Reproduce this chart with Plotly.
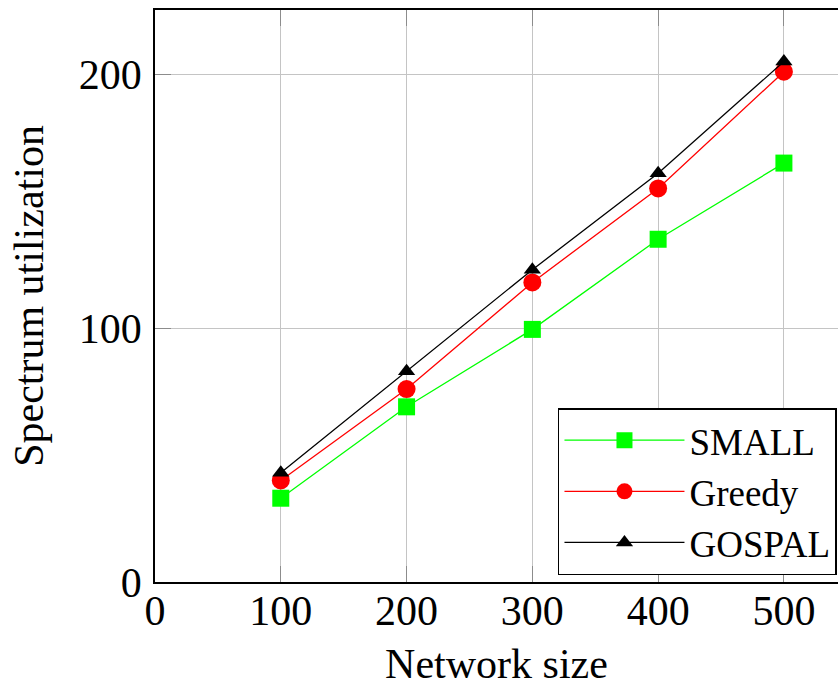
import plotly.graph_objects as go

network_size = [100, 200, 300, 400, 500]
small = [33, 69, 99.5, 135, 165]
greedy = [40, 76, 118, 155, 201]
gospal = [43, 83, 123, 161, 205]

x_ticks = [0, 100, 200, 300, 400, 500]
y_ticks = [0, 100, 200]

FONT = "Liberation Serif"
FS = 42

fig = go.Figure()
fig.add_trace(go.Scatter(x=network_size, y=small, name="SMALL", mode="lines+markers",
                         line=dict(color="#00ff00", width=1.3),
                         marker=dict(symbol="square", size=17, color="#00ff00")))
fig.add_trace(go.Scatter(x=network_size, y=greedy, name="Greedy", mode="lines+markers",
                         line=dict(color="#ff0000", width=1.3),
                         marker=dict(symbol="circle", size=18, color="#ff0000")))
fig.add_trace(go.Scatter(x=network_size, y=gospal, name="GOSPAL", mode="lines+markers",
                         line=dict(color="#000000", width=1.3),
                         marker=dict(symbol="triangle-up", size=15, color="#000000")))

axis_common = dict(
    showgrid=True, gridcolor="#c4c4c4", gridwidth=1,
    showline=True, linecolor="#000000", linewidth=1.5,
    ticks="inside", ticklen=16, tickcolor="#8c8c8c", tickwidth=1,
    zeroline=False,
    tickfont=dict(family=FONT, size=FS, color="black"),
)

fig.update_layout(
    width=838, height=687,
    margin=dict(l=155, r=0, t=10, b=105),
    paper_bgcolor="white", plot_bgcolor="white",
    font=dict(family=FONT, size=FS, color="black"),
    xaxis=dict(range=[0, 543], tickvals=x_ticks, mirror="ticks",
               title=dict(text="Network size", standoff=18,
                          font=dict(family=FONT, size=FS)),
               ticklabelstandoff=-9, **axis_common),
    yaxis=dict(range=[0, 225.3], tickvals=y_ticks,
               title=dict(text="Spectrum utilization", standoff=22,
                          font=dict(family=FONT, size=FS)),
               ticklabelstandoff=3, **axis_common),
    legend=dict(x=0.9985, xanchor="right", y=0.012, yanchor="bottom",
                bgcolor="white", bordercolor="black", borderwidth=1.5,
                font=dict(family=FONT, size=37),
                itemwidth=120),
    showlegend=True,
)

fig.write_html("out.html",
               config={"displayModeBar": False},
               post_script="document.body.style.margin='0px';document.body.style.overflow='hidden';")
